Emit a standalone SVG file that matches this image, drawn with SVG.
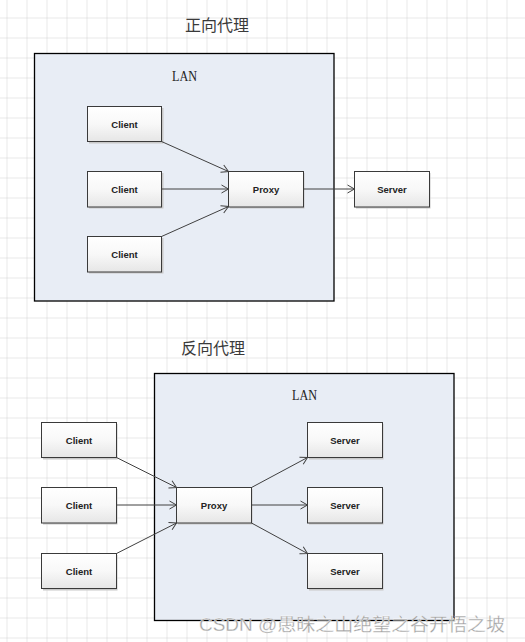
<svg xmlns="http://www.w3.org/2000/svg" width="525" height="642" viewBox="0 0 525 642">
<defs>
<pattern id="grid" x="6.5" y="17.5" width="20" height="20" patternUnits="userSpaceOnUse">
<path d="M0 0H20M0 0V20" fill="none" stroke="#d2d2d2" stroke-width="1"/>
</pattern>
<linearGradient id="boxg" x1="0" y1="0" x2="0" y2="1">
<stop offset="0" stop-color="#ffffff"/>
<stop offset="0.5" stop-color="#f8f8f8"/>
<stop offset="1" stop-color="#e6e6e6"/>
</linearGradient>
<marker id="arr" markerWidth="10" markerHeight="10" refX="8" refY="5" orient="auto" markerUnits="userSpaceOnUse">
<path d="M1 1L8 5L1 9" fill="none" stroke="#404040" stroke-width="1"/>
</marker>
</defs>
<style>
.title{font-family:"Noto Sans CJK SC","Noto Sans",sans-serif;font-size:16px;fill:#3a3a3a;}
.lan{font-family:"Liberation Serif",serif;font-size:15px;fill:#222;}
.lanbox{fill:#e8edf5;stroke:#000;stroke-width:1.3;}
.box{fill:url(#boxg);stroke:#3a3a3a;stroke-width:1;}
.shadow{fill:#c8c8c8;}
.lbl{font-family:"Liberation Sans",Arial,sans-serif;font-size:9.5px;font-weight:bold;fill:#222;text-anchor:middle;}
.conn{stroke:#404040;stroke-width:1;fill:none;marker-end:url(#arr);}
.wm{font-family:"Liberation Sans","Noto Sans CJK SC",sans-serif;font-size:18px;fill:#a0a0a0;stroke:#ffffff;stroke-width:0.3;}
</style>
<rect width="525" height="642" fill="#ffffff"/>
<rect width="525" height="642" fill="url(#grid)"/>

<text class="title" x="185" y="31">正向代理</text>
<g id="lan1">
<rect class="lanbox" x="34.5" y="53.5" width="299.5" height="247.5"/>
<text class="lan" x="172" y="81" textLength="25" lengthAdjust="spacingAndGlyphs">LAN</text>
</g>
<g id="client1"><rect class="shadow" x="89" y="108" width="74.5" height="35.5"/><rect class="box" x="87.5" y="106.5" width="74" height="35"/><text class="lbl" x="124.5" y="127.5">Client</text></g>
<g id="client2"><rect class="shadow" x="89" y="173" width="74.5" height="35.5"/><rect class="box" x="87.5" y="171.5" width="74" height="35.5"/><text class="lbl" x="124.5" y="192.5">Client</text></g>
<g id="client3"><rect class="shadow" x="89" y="238" width="74.5" height="35.5"/><rect class="box" x="87.5" y="236.5" width="74" height="35.5"/><text class="lbl" x="124.5" y="257.5">Client</text></g>
<g id="proxy1"><rect class="shadow" x="230" y="173" width="74.5" height="35.5"/><rect class="box" x="228.5" y="171.5" width="75" height="35.5"/><text class="lbl" x="266" y="192.5">Proxy</text></g>
<g id="server1"><rect class="shadow" x="356" y="173" width="74.5" height="35.5"/><rect class="box" x="354.5" y="171.5" width="75" height="35.5"/><text class="lbl" x="392" y="192.5">Server</text></g>

<text class="title" x="181" y="354">反向代理</text>
<g id="lan2">
<rect class="lanbox" x="154.5" y="373.5" width="299.5" height="247"/>
<text class="lan" x="292" y="400" textLength="25" lengthAdjust="spacingAndGlyphs">LAN</text>
</g>
<g id="rclient1"><rect class="shadow" x="43" y="424" width="74.5" height="35.5"/><rect class="box" x="41.5" y="422.5" width="75" height="35"/><text class="lbl" x="79" y="443.5">Client</text></g>
<g id="rclient2"><rect class="shadow" x="43" y="489" width="74.5" height="35.5"/><rect class="box" x="41.5" y="487.5" width="75" height="35.5"/><text class="lbl" x="79" y="508.5">Client</text></g>
<g id="rclient3"><rect class="shadow" x="43" y="555" width="74.5" height="35.5"/><rect class="box" x="41.5" y="553.5" width="75" height="35"/><text class="lbl" x="79" y="574.5">Client</text></g>
<g id="proxy2"><rect class="shadow" x="178" y="489" width="74.5" height="35.5"/><rect class="box" x="176.5" y="487.5" width="75" height="35.5"/><text class="lbl" x="214" y="508.5">Proxy</text></g>
<g id="rserver1"><rect class="shadow" x="309" y="424" width="74.5" height="35.5"/><rect class="box" x="307.5" y="422.5" width="75" height="35"/><text class="lbl" x="345" y="443.5">Server</text></g>
<g id="rserver2"><rect class="shadow" x="309" y="489" width="74.5" height="35.5"/><rect class="box" x="307.5" y="487.5" width="75" height="35.5"/><text class="lbl" x="345" y="508.5">Server</text></g>
<g id="rserver3"><rect class="shadow" x="309" y="555" width="74.5" height="35.5"/><rect class="box" x="307.5" y="553.5" width="75" height="35"/><text class="lbl" x="345" y="574.5">Server</text></g>

<g id="connectors">
<line class="conn" x1="161.5" y1="141.5" x2="228.5" y2="171.5"/>
<line class="conn" x1="161.5" y1="189" x2="228.5" y2="189"/>
<line class="conn" x1="161.5" y1="236.5" x2="228.5" y2="206.5"/>
<line class="conn" x1="303.5" y1="189" x2="354.5" y2="189"/>
<line class="conn" x1="116.5" y1="457.5" x2="176.5" y2="487.5"/>
<line class="conn" x1="116.5" y1="505" x2="176.5" y2="505"/>
<line class="conn" x1="116.5" y1="553.5" x2="176.5" y2="523"/>
<line class="conn" x1="251.5" y1="487.5" x2="307.5" y2="457.5"/>
<line class="conn" x1="251.5" y1="505" x2="307.5" y2="505"/>
<line class="conn" x1="251.5" y1="523" x2="307.5" y2="553.5"/>
</g>

<text class="wm" x="199" y="631" textLength="306" lengthAdjust="spacingAndGlyphs">CSDN @愚昧之山绝望之谷开悟之坡</text>
</svg>
